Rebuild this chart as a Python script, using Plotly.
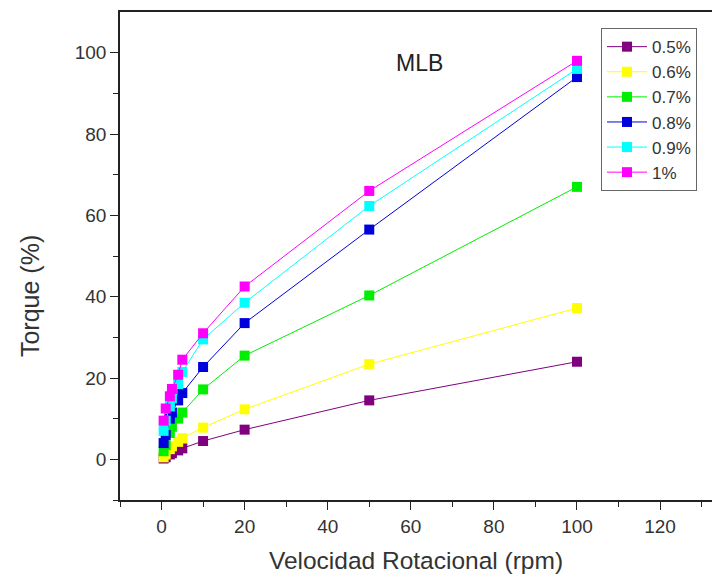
import plotly.graph_objects as go

speeds = [0.5, 1, 2, 2.5, 4, 5, 10, 20, 50, 100]
series_names = ["0.5%", "0.6%", "0.7%", "0.8%", "0.9%", "1%"]
torque_05 = [0.2, 0.5, 1.2, 1.5, 2.2, 2.7, 4.5, 7.3, 14.5, 24.0]
torque_06 = [0.5, 1.2, 2.5, 3.2, 4.3, 5.2, 7.8, 12.3, 23.4, 37.2]
torque_07 = [2.0, 3.5, 6.5, 8.0, 10.0, 11.5, 17.2, 25.5, 40.3, 67.0]
torque_08 = [4.0, 6.0, 10.0, 11.5, 14.5, 16.3, 22.7, 33.5, 56.5, 94.0]
torque_09 = [7.0, 9.5, 13.0, 15.0, 18.5, 21.5, 29.5, 38.5, 62.3, 96.0]
torque_10 = [9.5, 12.5, 15.5, 17.3, 20.8, 24.5, 31.0, 42.5, 66.0, 98.0]
all_series = [torque_05, torque_06, torque_07, torque_08, torque_09, torque_10]
colors = ["#800080", "#FFFF00", "#00EE00", "#0000DD", "#00FFFF", "#FF00FF"]

fig = go.Figure()
for name, ys, c in zip(series_names, all_series, colors):
    fig.add_trace(go.Scatter(
        x=speeds, y=ys, name=name, mode="lines+markers",
        line=dict(color=c, width=1),
        marker=dict(symbol="square", size=10, color=c),
    ))

font_family = "Liberation Sans, Arial, sans-serif"
fig.add_annotation(xref="x", yref="y", x=62, y=97.5, text="MLB",
                   showarrow=False, font=dict(size=23, color="#222", family=font_family))
fig.add_annotation(xref="paper", yref="paper", x=-0.152, y=0.418, xanchor="center",
                   yanchor="middle", textangle=-90, text="Torque (%)", showarrow=False,
                   font=dict(size=25, color="#333", family=font_family))

fig.update_layout(
    width=712, height=578,
    margin=dict(l=120, r=0, t=12, b=78),
    plot_bgcolor="white", paper_bgcolor="white",
    font=dict(family=font_family, size=19, color="#333"),
    showlegend=True,
    legend=dict(x=0.8125, y=0.967, xanchor="left", yanchor="top",
                bordercolor="#666", borderwidth=1, bgcolor="white",
                font=dict(size=17, color="#333"), itemwidth=40,
                tracegroupgap=0),
    xaxis=dict(range=[-10, 132.5], tickvals=[0, 20, 40, 60, 80, 100, 120],
               ticks="outside", ticklen=8, tickwidth=1.2, tickcolor="#222",
               showline=True, linecolor="#222", linewidth=1.5, mirror=True,
               showgrid=False, zeroline=False,
               minor=dict(tickvals=[-10, 10, 30, 50, 70, 90, 110, 130], ticks="outside",
                          ticklen=5, tickcolor="#222", showgrid=False),
               title=dict(text="Velocidad Rotacional (rpm)", font=dict(size=24.5), standoff=16)),
    yaxis=dict(range=[-10, 110], tickvals=[0, 20, 40, 60, 80, 100],
               ticks="outside", ticklen=8, tickwidth=1.2, tickcolor="#222",
               showline=True, linecolor="#222", linewidth=1.5, mirror=False,
               showgrid=False, zeroline=False,
               minor=dict(tickvals=[-10, 10, 30, 50, 70, 90], ticks="outside",
                          ticklen=5, tickcolor="#222", showgrid=False)),
)

fig.write_html("out.html")
